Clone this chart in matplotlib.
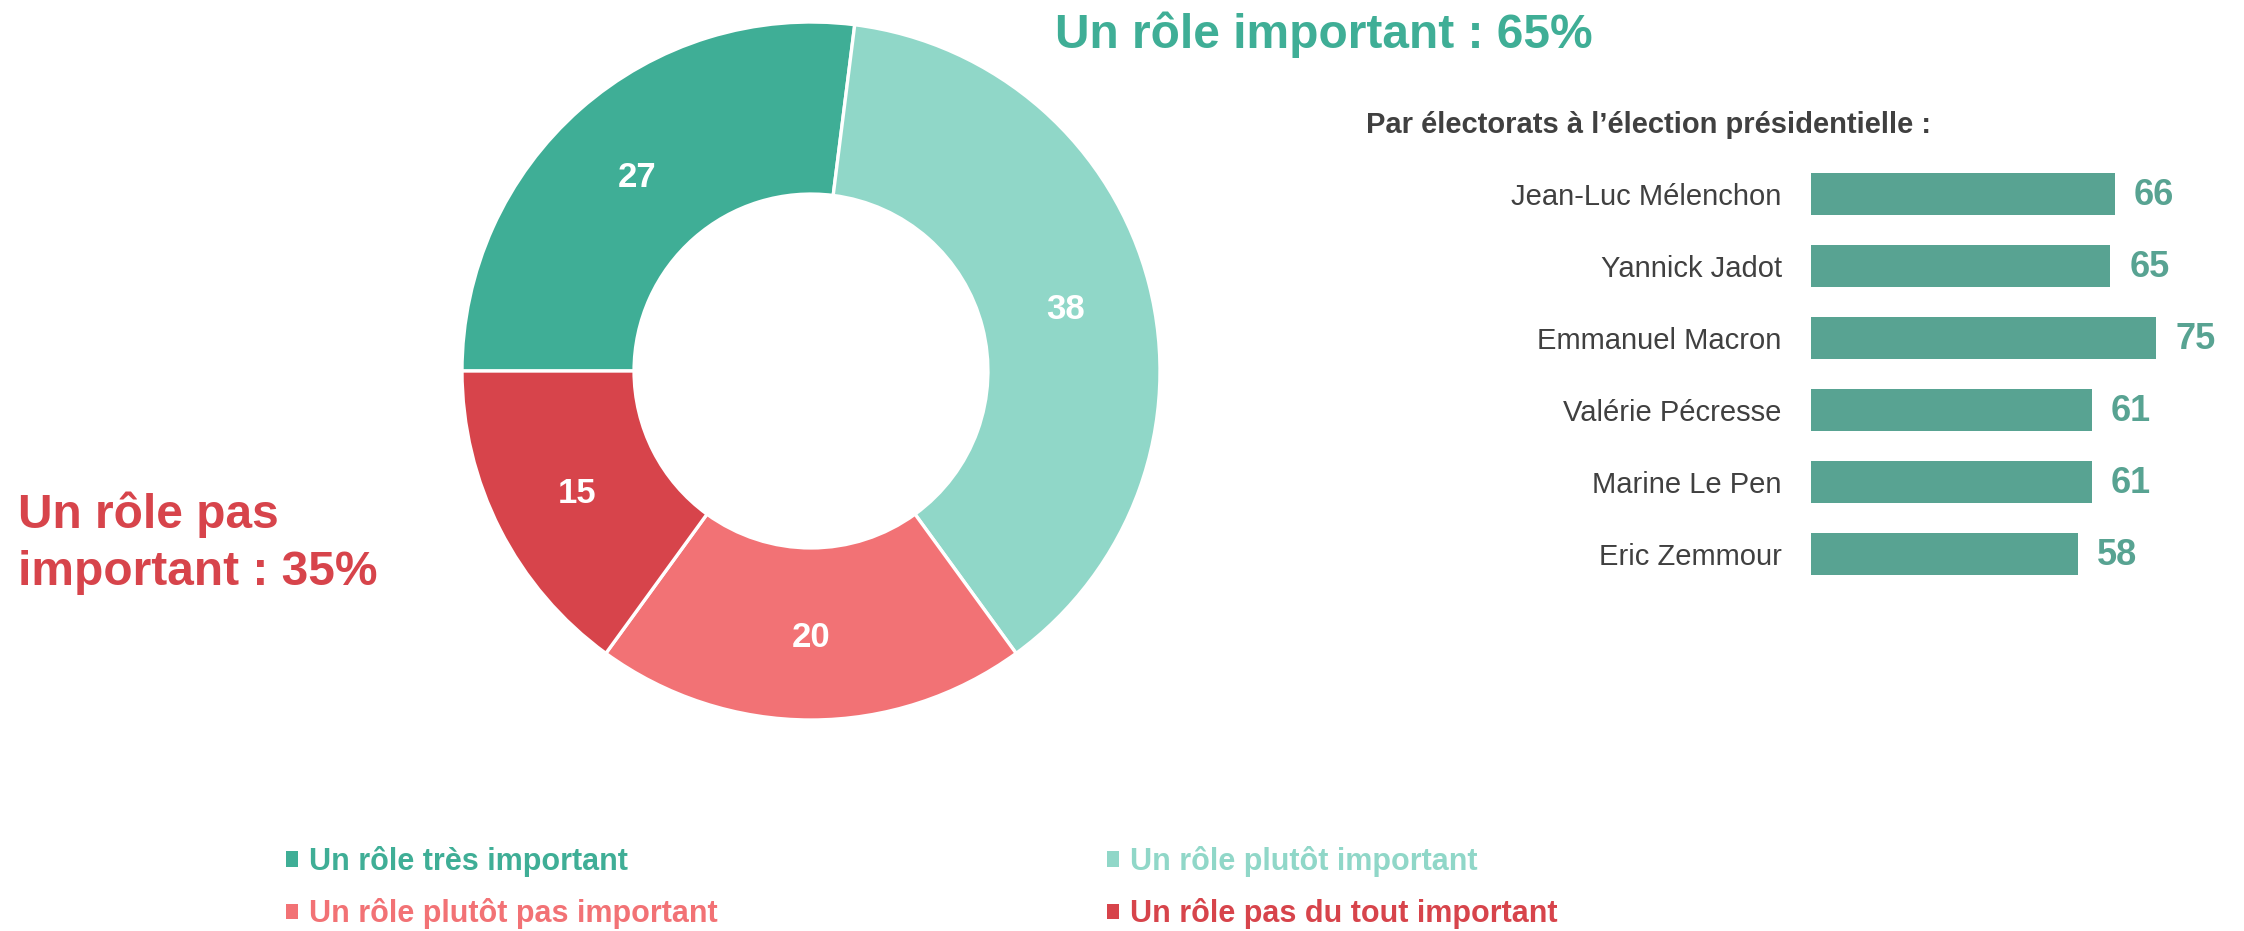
import matplotlib
matplotlib.use("Agg")
from matplotlib import pyplot as plt
from matplotlib.patches import Patch
import numpy as np

plt.rcParams['font.family'] = ['Liberation Sans', 'DejaVu Sans']

# donut data
role_labels = ['Un rôle très important', 'Un rôle plutôt important',
               'Un rôle plutôt pas important', 'Un rôle pas du tout important']
role_values = [27, 38, 20, 15]
role_colors = ['#3FAE96', '#90D7C8', '#F27275', '#D7444B']

# bars by electorate
candidates = ['Jean-Luc Mélenchon', 'Yannick Jadot', 'Emmanuel Macron',
              'Valérie Pécresse', 'Marine Le Pen', 'Eric Zemmour']
cand_values = [66, 65, 75, 61, 61, 58]
bar_color = '#58A392'

W, H = 2244, 931
fig = plt.figure(figsize=(W / 100, H / 100), dpi=100)


def px(x, y):
    # pixel (from top-left) -> figure fraction
    return x / W, 1 - y / H


# ------------------------------------------------------------
# donut
cx, cy, r = 811, 371, 349
ax = fig.add_axes([(cx - r) / W, (H - cy - r) / H, 2 * r / W, 2 * r / H])
ring = 0.493
wedges, _ = ax.pie(role_values, colors=role_colors, startangle=180, counterclock=False,
                   wedgeprops=dict(width=ring, edgecolor='white', linewidth=2.4))
ax.set_xlim(-1, 1)
ax.set_ylim(-1, 1)
ax.set_aspect('equal')
ax.axis('off')

for w, v in zip(wedges, role_values):
    mid = np.deg2rad((w.theta1 + w.theta2) / 2)
    rr = 1 - ring / 2
    ax.text(rr * np.cos(mid), rr * np.sin(mid), str(v), ha='center', va='center_baseline',
            color='white', fontsize=25, fontweight='bold')

fig.text(*px(1055, 48), 'Un rôle important : 65%', color='#3FAE96',
         fontsize=34.5, fontweight='bold', va='baseline', ha='left')
fig.text(*px(18, 528), 'Un rôle pas', color='#D7444B',
         fontsize=34.5, fontweight='bold', va='baseline', ha='left')
fig.text(*px(18, 585), 'important : 35%', color='#D7444B',
         fontsize=34.5, fontweight='bold', va='baseline', ha='left')

# ------------------------------------------------------------
# bars
pitch = 72
top = 194 - pitch / 2
bot = 554 + pitch / 2
bx = fig.add_axes([1811 / W, (H - bot) / H, 460 / W, (bot - top) / H])
ypos = list(range(len(candidates)))
bx.barh(ypos, cand_values, height=0.58, color=bar_color)
bx.set_xlim(0, 100)
bx.set_ylim(len(candidates) - 0.5, -0.5)
bx.set_yticks(ypos)
bx.set_yticklabels(candidates, fontsize=21, color='#404040', va='center_baseline')
bx.tick_params(axis='y', length=0, pad=21)
bx.set_xticks([])
for s in bx.spines.values():
    s.set_visible(False)
for y, v in zip(ypos, cand_values):
    bx.annotate(str(v), (v, y), xytext=(14, 1.5), textcoords='offset points',
                ha='left', va='center_baseline', fontsize=26, fontweight='bold',
                color=bar_color)

fig.text(*px(1366, 133), 'Par électorats à l’élection présidentielle :', color='#404040',
         fontsize=21, fontweight='bold', va='baseline', ha='left')

# ------------------------------------------------------------
# legend
order = [0, 2, 1, 3]
handles = [Patch(facecolor=role_colors[i], edgecolor='none') for i in order]
fig.legend(handles, [role_labels[i] for i in order], ncol=2, frameon=False,
           loc='upper left', bbox_to_anchor=px(286, 846),
           borderpad=0, borderaxespad=0, handlelength=0.4, handleheight=0.4,
           handletextpad=0.35, columnspacing=12.75, labelspacing=0.7,
           labelcolor=[role_colors[i] for i in order],
           prop=dict(size=22, weight='bold'))

plt.savefig('out.png', dpi=100)
